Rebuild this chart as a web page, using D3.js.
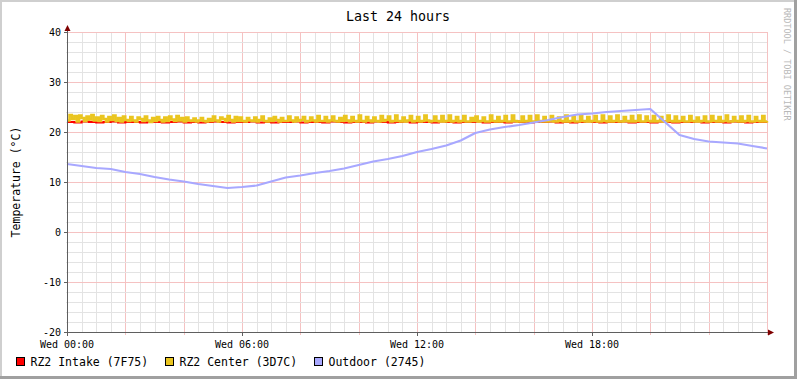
<!DOCTYPE html>
<html>
<head>
<meta charset="utf-8">
<script src="https://cdn.jsdelivr.net/npm/d3@7/dist/d3.min.js"></script>
<style>
  html, body { margin: 0; padding: 0; background: #fff; }
  svg { display: block; }
  text { font-family: "DejaVu Sans Mono", monospace; }
</style>
</head>
<body>
<svg id="chart" width="797" height="379"></svg>
<script>
// ---------------- DATA ----------------
const title = "Last 24 hours";
const yLabel = "Temperature (°C)";
const watermark = "RRDTOOL / TOBI OETIKER";
const yTicks = [-20, -10, 0, 10, 20, 30, 40];
const xTickHours = [0, 6, 12, 18];
const xTickLabels = ["Wed 00:00", "Wed 06:00", "Wed 12:00", "Wed 18:00"];
const seriesNames = ["RZ2 Intake (7F75)", "RZ2 Center (3D7C)", "Outdoor (2745)"];

// Outdoor, every 30 minutes from 00:00 to 24:00
const outdoor = [
  13.6, 13.2, 12.8, 12.6, 12.0, 11.6, 11.0, 10.5, 10.1, 9.6,
  9.2, 8.8, 9.0, 9.3, 10.1, 10.9, 11.3, 11.8, 12.2, 12.7,
  13.4, 14.1, 14.6, 15.2, 16.0, 16.6, 17.3, 18.3, 19.8, 20.5,
  21.0, 21.4, 21.9, 22.4, 23.0, 23.5, 23.7, 24.0, 24.2, 24.4,
  24.6, 22.0, 19.4, 18.6, 18.1, 17.9, 17.7, 17.2, 16.7
];

// RZ2 Intake, every 15 minutes
const intake = [
  22.0, 21.9, 22.1, 22.0, 21.9, 22.0, 22.1, 21.9, 22.0, 22.0, 21.9, 22.1,
  22.0, 21.9, 22.0, 22.1, 21.9, 22.0, 21.9, 22.0, 22.1, 22.0, 21.9, 22.0,
  22.0, 22.1, 21.9, 22.0, 21.9, 22.0, 22.0, 22.1, 21.9, 22.0, 22.0, 21.9,
  22.1, 22.0, 21.9, 22.0, 22.0, 21.9, 22.1, 22.0, 21.9, 22.0, 22.1, 21.9,
  22.0, 22.0, 21.9, 22.1, 22.0, 21.9, 22.0, 22.0, 22.1, 21.9, 22.0, 22.0,
  21.9, 22.1, 22.0, 21.9, 22.0, 22.0, 22.1, 21.9, 22.0, 21.9, 22.0, 22.1,
  22.0, 21.9, 22.0, 22.0, 22.1, 21.9, 22.0, 22.0, 21.9, 22.1, 22.0, 21.9,
  22.0, 22.0, 22.1, 21.9, 22.0, 22.0, 21.9, 22.1, 22.0, 21.9, 22.0, 22.0,
  22.0
];

// RZ2 Center, every 5 minutes (one row per hour)
const center = [
  22.3,23.4,22.6,23.2,22.1,23.3,22.8,22.2,23.1,22.5,23.4,22.3,
  22.9,22.2,23.2,22.6,22.1,23.0,22.4,23.3,22.2,22.8,22.1,23.1,
  22.4,22.2,23.0,22.3,22.1,22.9,22.6,22.2,23.1,22.3,22.0,22.8,
  22.2,23.0,22.4,22.1,22.9,22.2,23.1,22.5,22.2,23.2,22.3,22.8,
  22.1,22.9,22.3,22.2,22.7,22.1,22.3,22.8,22.2,22.1,22.6,22.2,
  23.1,22.3,22.1,22.9,22.6,22.2,23.2,22.4,22.1,23.0,22.2,22.9,
  22.2,22.1,22.8,22.3,22.2,22.9,22.1,22.4,23.1,22.2,22.1,22.7,
  22.2,23.0,22.4,22.1,22.8,22.2,22.2,23.1,22.3,22.1,22.9,22.2,
  22.4,23.0,22.1,22.2,22.9,22.3,22.1,23.2,22.2,22.2,23.0,22.1,
  22.3,23.1,22.2,22.1,22.8,22.2,23.2,22.3,22.1,23.0,22.2,22.1,
  23.3,22.2,22.1,23.0,22.3,22.1,22.9,22.2,22.1,23.2,22.2,22.4,
  23.1,22.1,22.2,23.3,22.2,22.1,22.9,22.1,22.3,23.2,22.1,22.2,
  23.0,22.1,22.2,23.3,22.3,22.1,22.2,23.1,22.2,22.1,23.2,22.1,
  22.2,23.3,22.1,22.2,23.0,22.1,22.2,23.2,22.1,22.1,22.8,22.2,
  23.1,22.1,22.2,22.9,22.1,22.1,23.3,22.2,22.1,23.0,22.1,22.2,
  23.2,22.1,22.1,23.3,22.2,22.1,22.1,23.1,22.1,22.2,23.2,22.1,
  22.1,23.3,22.2,22.1,23.0,22.1,22.2,23.2,22.1,22.1,22.9,22.2,
  22.1,23.3,22.1,22.2,23.1,22.1,22.1,23.2,22.2,22.1,23.0,22.1,
  22.2,23.2,22.1,22.1,23.3,22.2,22.1,23.1,22.1,22.2,23.3,22.1,
  22.1,23.0,22.2,22.1,23.2,22.1,22.2,23.3,22.1,22.1,23.1,22.2,
  22.1,23.2,22.1,22.2,23.0,22.1,22.1,23.3,22.2,22.1,23.1,22.1,
  22.2,23.0,22.1,22.1,23.2,22.2,22.1,22.9,22.1,22.2,23.1,22.1,
  22.1,23.2,22.2,22.1,23.0,22.1,22.2,23.3,22.1,22.1,23.0,22.2,
  22.1,23.1,22.1,22.2,23.2,22.1,22.1,23.0,22.2,22.1,23.2,22.1,
  22.2
];

// ---------------- STYLE ----------------
const colors = { intake: "#FF0000", center: "#EAC51F", outdoor: "#A8A8FF" };
const W = 797, H = 379;
const plot = { left: 67, right: 767, top: 32, bottom: 332 };

const svg = d3.select("#chart");

const x = d3.scaleLinear().domain([0, 24]).range([plot.left, plot.right]);
const y = d3.scaleLinear().domain([-20, 40]).range([plot.bottom, plot.top]);

// background
svg.append("rect").attr("width", W).attr("height", H).attr("fill", "#fff");

// border (3D shade)
svg.append("rect").attr("x", 0).attr("y", 0).attr("width", W).attr("height", 2).attr("fill", "#cfcfcf");
svg.append("rect").attr("x", 0).attr("y", 0).attr("width", 2).attr("height", H).attr("fill", "#cfcfcf");
svg.append("rect").attr("x", 0).attr("y", H - 3).attr("width", W).attr("height", 3).attr("fill", "#a0a0a0");
svg.append("rect").attr("x", W - 3).attr("y", 0).attr("width", 3).attr("height", H).attr("fill", "#a0a0a0");

const minorColor = "#e3e3e3";
const majorColor = "#f5c2c2";

const grid = svg.append("g").attr("shape-rendering", "crispEdges");

// minor vertical (every 30 min)
const minorX = d3.range(0, 24.01, 0.5).filter(h => h % 2 !== 0);
grid.selectAll(".mvx").data(minorX).join("line")
  .attr("x1", d => Math.round(x(d)) + 0.5).attr("x2", d => Math.round(x(d)) + 0.5)
  .attr("y1", plot.top).attr("y2", plot.bottom + 1)
  .attr("stroke", minorColor);
// major vertical (every 2h)
const majorX = d3.range(2, 24.01, 2);
grid.selectAll(".Mvx").data(majorX).join("line")
  .attr("x1", d => Math.round(x(d)) + 0.5).attr("x2", d => Math.round(x(d)) + 0.5)
  .attr("y1", plot.top).attr("y2", plot.bottom + 3)
  .attr("stroke", majorColor);
// minor horizontal (every 2)
const minorY = d3.range(-20, 40.01, 2).filter(v => v % 10 !== 0);
grid.selectAll(".mhy").data(minorY).join("line")
  .attr("x1", plot.left - 1).attr("x2", plot.right)
  .attr("y1", d => Math.round(y(d)) + 0.5).attr("y2", d => Math.round(y(d)) + 0.5)
  .attr("stroke", minorColor);
// major horizontal
grid.selectAll(".Mhy").data(yTicks.filter(v => v !== -20)).join("line")
  .attr("x1", plot.left - 3).attr("x2", plot.right)
  .attr("y1", d => Math.round(y(d)) + 0.5).attr("y2", d => Math.round(y(d)) + 0.5)
  .attr("stroke", majorColor);

// series lines
const step5 = 5 / 60, step15 = 0.25, step30 = 0.5;
const lineGen = (step, curve) => d3.line().curve(curve).x((d, i) => x(i * step)).y(d => y(d));

svg.append("path").datum(intake).attr("d", lineGen(step15, d3.curveStepAfter))
  .attr("fill", "none").attr("stroke", colors.intake).attr("stroke-width", 2);
svg.append("path").datum(center).attr("d", lineGen(step5, d3.curveStepAfter))
  .attr("fill", "none").attr("stroke", colors.center).attr("stroke-width", 2.4).attr("stroke-linejoin", "miter");
svg.append("path").datum(outdoor).attr("d", lineGen(step30, d3.curveLinear))
  .attr("fill", "none").attr("stroke", colors.outdoor).attr("stroke-width", 2.2).attr("stroke-linejoin", "round");

// axes
const axisColor = "#5f5f5f";
const arrowColor = "#7F0000";
const ax = svg.append("g").attr("shape-rendering", "crispEdges");
ax.append("line").attr("x1", plot.left + 0.5).attr("x2", plot.left + 0.5)
  .attr("y1", plot.top - 4).attr("y2", plot.bottom + 3).attr("stroke", axisColor);
ax.append("line").attr("x1", plot.left - 3).attr("x2", plot.right + 4)
  .attr("y1", plot.bottom + 0.5).attr("y2", plot.bottom + 0.5).attr("stroke", axisColor);
// y ticks
ax.selectAll(".yt").data(yTicks).join("line")
  .attr("x1", plot.left - 3).attr("x2", plot.left)
  .attr("y1", d => Math.round(y(d)) + 0.5).attr("y2", d => Math.round(y(d)) + 0.5)
  .attr("stroke", axisColor);
// x ticks at labels
ax.selectAll(".xt").data(xTickHours).join("line")
  .attr("x1", d => Math.round(x(d)) + 0.5).attr("x2", d => Math.round(x(d)) + 0.5)
  .attr("y1", plot.bottom).attr("y2", plot.bottom + 4)
  .attr("stroke", axisColor);

// arrows
svg.append("path")
  .attr("d", `M${plot.left + 0.5 - 3},${plot.top - 1} L${plot.left + 0.5},${plot.top - 7} L${plot.left + 0.5 + 3},${plot.top - 1} Z`)
  .attr("fill", arrowColor);
svg.append("path")
  .attr("d", `M${plot.right + 1},${plot.bottom + 0.5 - 3} L${plot.right + 7},${plot.bottom + 0.5} L${plot.right + 1},${plot.bottom + 0.5 + 3} Z`)
  .attr("fill", arrowColor);

// y tick labels
svg.selectAll(".ylab").data(yTicks).join("text")
  .attr("x", plot.left - 6).attr("y", d => y(d))
  .attr("dy", "0.35em").attr("text-anchor", "end")
  .attr("font-size", "10px").attr("fill", "#000")
  .text(d => d);

// x tick labels
svg.selectAll(".xlab").data(xTickHours).join("text")
  .attr("x", d => x(d)).attr("y", 344.5)
  .attr("dy", "0.35em").attr("text-anchor", "middle")
  .attr("font-size", "10px").attr("fill", "#000")
  .text((d, i) => xTickLabels[i]);

// title
svg.append("text").attr("x", 398).attr("y", 16).attr("dy", "0.35em")
  .attr("text-anchor", "middle").attr("font-size", "13.3px").attr("fill", "#000")
  .text(title);

// y label
svg.append("text")
  .attr("transform", `translate(15.5, ${(plot.top + plot.bottom) / 2}) rotate(-90)`)
  .attr("dy", "0.35em").attr("text-anchor", "middle")
  .attr("font-size", "11.5px").attr("fill", "#000")
  .text(yLabel);

// watermark
svg.append("text")
  .attr("transform", `translate(787, 8) rotate(90)`)
  .attr("dy", "0.35em").attr("text-anchor", "start")
  .attr("font-size", "8.5px").attr("fill", "#b8b8b8")
  .text(watermark);

// legend
const legendColors = [colors.intake, colors.center, colors.outdoor];
const legendX = [16.5, 165.5, 314.5];
const lg = svg.append("g");
seriesNames.forEach((name, i) => {
  lg.append("rect").attr("x", legendX[i]).attr("y", 357.5).attr("width", 8).attr("height", 8)
    .attr("fill", legendColors[i]).attr("stroke", "#000").attr("stroke-width", 1);
  lg.append("text").attr("x", legendX[i] + 14).attr("y", 361.5).attr("dy", "0.35em")
    .attr("font-size", "11.5px").attr("fill", "#000").text(name);
});
</script>
</body>
</html>
